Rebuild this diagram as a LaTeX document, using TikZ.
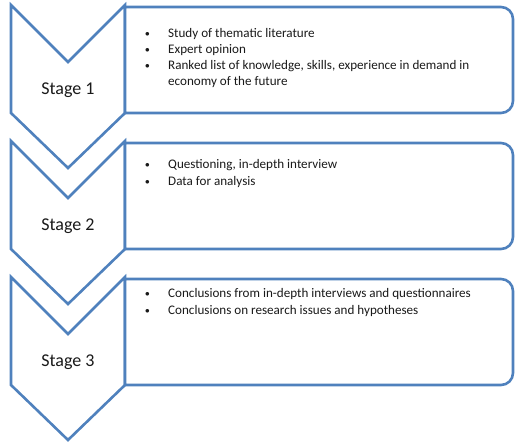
\documentclass[tikz,border=0pt]{standalone}
\usepackage{fontspec}
\setmainfont{Carlito}
\definecolor{sblue}{HTML}{4F81BD}
\definecolor{txt}{HTML}{1A1A1A}
\begin{document}
\begin{tikzpicture}[x=1pt,y=1pt,
  shp/.style={draw=sblue,line width=2.6pt,line join=miter,fill=white},
  stagelbl/.style={font=\fontsize{18}{21}\selectfont,text=txt,inner sep=0pt},
  bul/.style={font=\fontsize{13.1}{16}\selectfont,text=txt,inner sep=0pt,anchor=west}]
\useasboundingbox (0,0) rectangle (519,447);
% stage k: image top t -> y' = 447 - t
\foreach \t/\n in {5/1,141/2,277/3}{
  \pgfmathsetmacro{\T}{447-\t}
  \draw[shp] (11,\T) -- (68,\T-57) -- (125,\T) -- (125,\T-108) -- (68,\T-163) -- (11,\T-108) -- cycle;
  \draw[shp] (125,\T-2) -- (501,\T-2) arc[start angle=90,end angle=0,radius=12] -- (513,\T-96) arc[start angle=0,end angle=-90,radius=12] -- (125,\T-108) -- cycle;
  \node[stagelbl] (s\n) at (68,\T-85) {Stage \n};
}
% stage 1 bullets
\node[bul] (b11) at (145,413) {\small$\bullet$};
\node[bul] (t11) at (168,413) {Study of thematic literature};
\node[bul] (b12) at (145,397) {\small$\bullet$};
\node[bul] (t12) at (168,397) {Expert opinion};
\node[bul] (b13) at (145,381) {\small$\bullet$};
\node[bul] (t13) at (168,381) {Ranked list of knowledge, skills, experience in demand in};
\node[bul] (t14) at (168,365) {economy of the future};
% stage 2
\node[bul] (b21) at (145,282) {\small$\bullet$};
\node[bul] (t21) at (168,282) {Questioning, in-depth interview};
\node[bul] (b22) at (145,265) {\small$\bullet$};
\node[bul] (t22) at (168,265) {Data for analysis};
% stage 3
\node[bul] (b31) at (145,153) {\small$\bullet$};
\node[bul] (t31) at (168,153) {Conclusions from in-depth interviews and questionnaires};
\node[bul] (b32) at (145,136) {\small$\bullet$};
\node[bul] (t32) at (168,136) {Conclusions on research issues and hypotheses};
\end{tikzpicture}
\end{document}
